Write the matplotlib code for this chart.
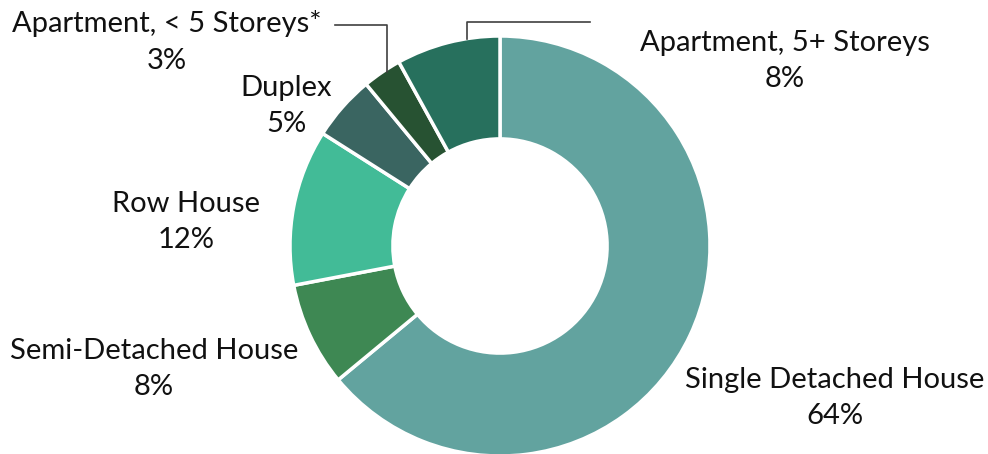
import matplotlib.pyplot as plt

# dwelling type shares, clockwise from 12 o'clock
labels = ['Single Detached House', 'Semi-Detached House', 'Row House',
          'Duplex', 'Apartment, < 5 Storeys*', 'Apartment, 5+ Storeys']
shares = [64, 8, 12, 5, 3, 8]
colors = ['#62A39F', '#3E8853', '#42BB97', '#3A6561', '#275232', '#27705D']

# label block centres in pixel coords (x, y from top)
label_pos = [(835, 398), (154, 369), (186, 222), (286, 106), (167, 42), (785, 61)]

plt.rcParams['font.family'] = ['Lato', 'DejaVu Sans']

fig = plt.figure(figsize=(9.88, 4.54), dpi=100)
ax = fig.add_axes([0, 0, 1, 1])
H = 454

ax.pie(shares, colors=colors, startangle=90, counterclock=False,
       center=(500, H - 246), radius=210,
       wedgeprops=dict(width=210 * 0.49, edgecolor='white', linewidth=2.5))

for name, val, (x, y) in zip(labels, shares, label_pos):
    ax.text(x, H - y, name + '\n' + '{}%'.format(val), ha='center', va='center',
            fontsize=21, color='#111111', linespacing=1.5)

# leader lines for the two small apartment slices
ax.plot([335, 387, 387], [H - 25, H - 25, H - 72], color='#404040', lw=1.2)
ax.plot([590, 467, 467], [H - 22, H - 22, H - 39], color='#404040', lw=1.2)

ax.set_xlim(0, 988)
ax.set_ylim(0, H)
ax.set_aspect('auto')
ax.axis('off')

plt.savefig('out.png', dpi=100)
